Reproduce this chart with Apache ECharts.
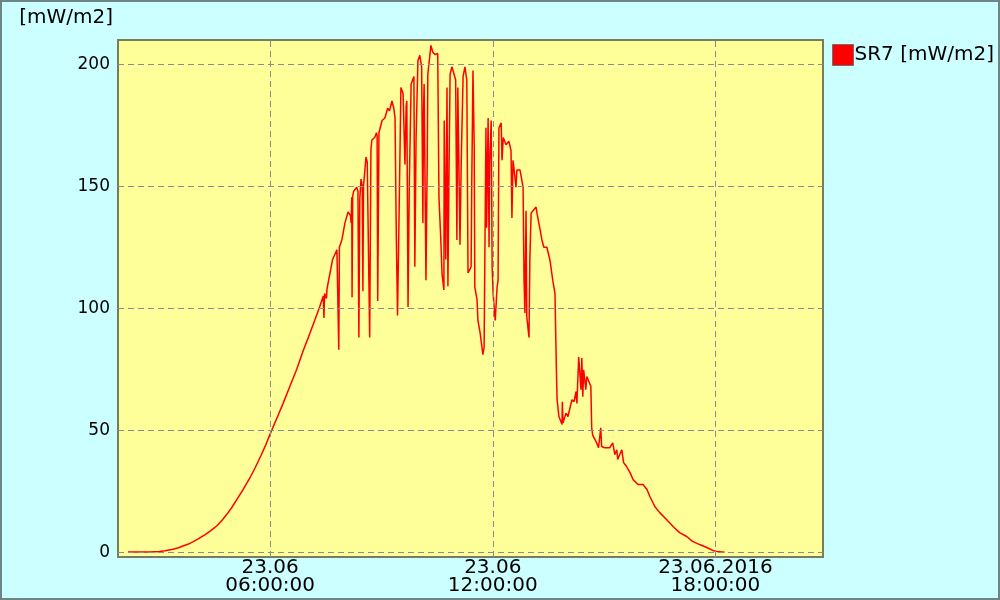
<!DOCTYPE html>
<html><head><meta charset="utf-8">
<script src="https://cdn.jsdelivr.net/npm/echarts@6/dist/echarts.min.js"></script>
<style>html,body{margin:0;padding:0;background:#ccffff}#c{width:1000px;height:600px}</style>
</head><body><div id="c"></div>
<script>
// time of day in minutes since midnight (23.06.2016)
const minutes = [130,150,165,181,190,203,212,220,228,235,245,255,264,274,282,290,298,306,316,327,336,345,353,361,371,381,392,403,413,424,432,440,446,447,448,451,452,461,468,470,471,472,476,481,486,490,491,492,492.5,493.5,495,500,502,503.5,505,507,509,510,511,515,517,521,523,524.5,529,532,533,534,536,541,545.6,550,553,557,560,562,564,566,568,571.5,575,578,580,581,583,585,588,592.5,594,596,599,602,605,607,608,609,612,614,615,620,623,627,631,633,636,638,641,641.5,644,646,647.5,649,651,654,655.6,660,662,663.5,667,669,672,675,678,680,685,686,688,690,691,694.6,696,699.5,704,706,709,710,711,712.5,714,715,717.5,719,720.6,724,727,728.6,730,733.6,735,737,741.4,746,749.5,751,752.7,754,757.6,759,764,767,769,770.6,772,773.8,775,778.6,780,782,785,790,791.5,796,799.5,802.6,807.5,812.5,817,820.6,822,823,824,827,832,832.5,833.6,838.4,841.6,848,851.4,854.6,856,859,862.6,864,865.6,867,870.5,872,875,878.6,880,881.6,888,891,894.6,896,901,909,914,917.4,920.6,922,928.6,931.6,936.6,942,946.8,954.8,963,969.4,974,982,990,1001,1011.6,1022,1033.6,1043,1054.6,1066,1075.6,1082,1095];
const values = [0,0,0,0.3,0.6,1.2,1.8,2.6,3.3,4.2,5.6,7.2,8.8,10.8,13,15.5,18.3,21.5,25.5,30.3,34.7,39.5,44,49,55,61,68,75,82.3,89.5,95,100.5,105,96,106,104,108,120,124,124,83,125,128,135,139.5,138,135,145.5,104.5,146,148,149.6,148,88,145,153,150,107,150,162,160,88,165,169,170,172,171,103,172,177,178,182,181,185,182,178,130,97,130,190.5,188,159,183,185,100.5,150,192,195,117,170,201.6,203.7,199,135,180,192,111.5,160,196,207.8,205,204,204.5,145.5,128,114,107.5,177,120,190.5,109,150,196,199,199.5,193.6,128,190.5,126,160,195,199,193.6,114.5,117,150,197.5,166,108.7,103.5,95,90,81,84,174,133,150,178,125,160,177,117,106,95,108.7,111.5,174,176,160.7,170,167,168.5,164.7,137,160.7,158,149.6,156.7,156.7,152.5,149.6,111.5,98,140,96.5,88,120,139,140,141.5,139,133,128,125,125,119.7,111.5,106,87,73.6,62.5,55.6,52.3,61.7,53,57,55.6,62.5,61.7,65.8,61,80,66.6,79.6,63.7,74.8,66.6,72,72,68,51,48,44.8,42.8,51,43.3,42.8,42.8,44.8,40,42,38,42,36.7,35,32.6,29.8,27.7,27.7,25.7,22.8,18.7,16.2,13.4,10.5,8,6.4,4.4,3.1,1.9,0.7,0.3,0];
const xTickMinutes = [360,720,1080];
const xTickLabels = ['23.06\n06:00:00','23.06\n12:00:00','23.06.2016\n18:00:00'];
const yTicks = [0,50,100,150,200];
const seriesName = 'SR7 [mW/m2]';
const unitLabel = '[mW/m2]';

const data = minutes.map((m,i)=>[m, values[i]]);
const font = 'DejaVu Sans';
const chart = echarts.init(document.getElementById('c'));
chart.setOption({
  animation:false,
  backgroundColor:'#ccffff',
  textStyle:{fontFamily:font},
  graphic:[{type:'rect',shape:{x:1,y:1,width:998,height:598},style:{fill:'none',stroke:'#6e8585',lineWidth:2},z:100}],
  grid:{left:118,right:177,top:40,bottom:43,show:true,backgroundColor:'#ffff99',borderColor:'#7a7a5e',borderWidth:2},
  legend:{left:832,top:44,padding:0,orient:'vertical',icon:'rect',itemWidth:21,itemHeight:21,
    itemStyle:{color:'#ff0000',borderColor:'#707070',borderWidth:1},
    textStyle:{fontSize:20,color:'#000',fontFamily:font,padding:[6,0,0,-4]},
    data:[seriesName]},
  xAxis:{type:'value',min:114,max:1254,
    axisLine:{show:false},axisTick:{show:false},splitLine:{show:false},
    axisLabel:{customValues:xTickMinutes,color:'#000',fontSize:20,lineHeight:18,margin:2,fontFamily:font,
      formatter:v=>{const i=xTickMinutes.indexOf(Math.round(v));return i>=0?xTickLabels[i]:'';}}},
  yAxis:{type:'value',min:-2,max:210,
    name:unitLabel,nameLocation:'end',nameGap:22,
    nameTextStyle:{color:'#000',fontSize:20,align:'right',verticalAlign:'middle',padding:[0,5,0,0],fontFamily:font},
    axisLine:{show:false},axisTick:{show:false},splitLine:{show:false},
    axisLabel:{customValues:yTicks,color:'#000',fontSize:17,margin:8,fontFamily:font}},
  series:[
    {type:'line',name:'grid',data:[],z:1,silent:true,
      markLine:{silent:true,symbol:'none',animation:false,label:{show:false},
        lineStyle:{color:'#8c8c96',type:[6,4],width:1},
        data:xTickMinutes.map(m=>({xAxis:m})).concat(yTicks.map(v=>({yAxis:v})))}},
    {type:'line',name:seriesName,data:data,z:3,showSymbol:false,sampling:null,
      lineStyle:{color:'#ff0000',width:1.5},itemStyle:{color:'#ff0000'}}
  ]
});
</script></body></html>
